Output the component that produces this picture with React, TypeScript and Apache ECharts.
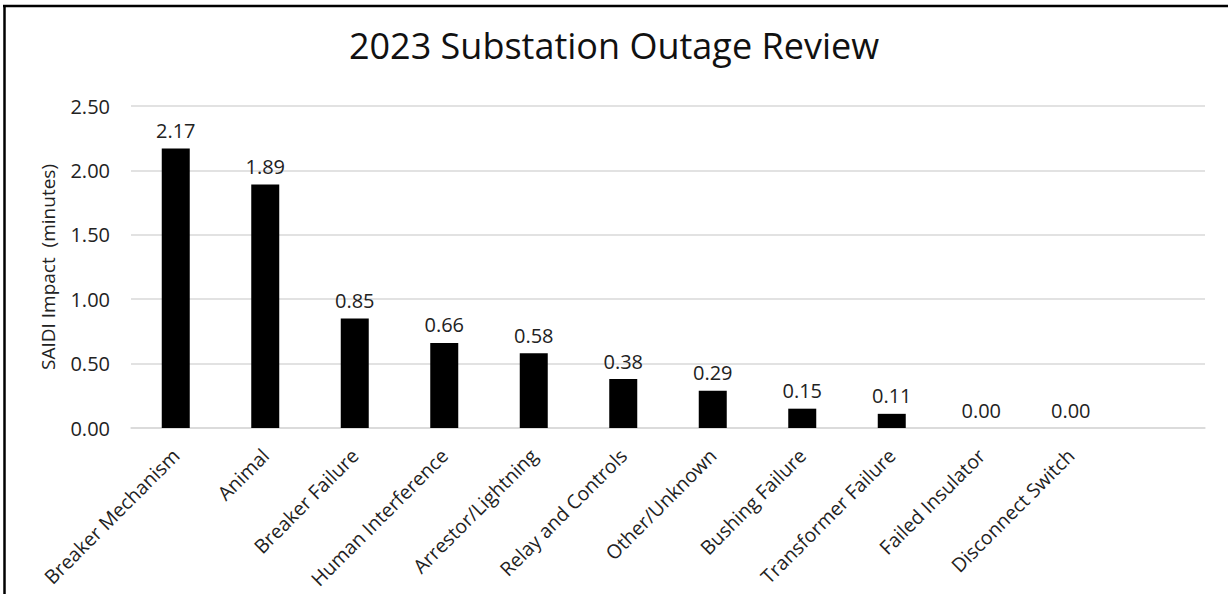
import React, { useEffect, useRef } from "react";
import * as echarts from "echarts";

const categories = [
  "Breaker Mechanism",
  "Animal",
  "Breaker Failure",
  "Human Interference",
  "Arrestor/Lightning",
  "Relay and Controls",
  "Other/Unknown",
  "Bushing Failure",
  "Transformer Failure",
  "Failed Insulator",
  "Disconnect Switch",
  "",
];
const saidiValues: (number | null)[] = [2.17, 1.89, 0.85, 0.66, 0.58, 0.38, 0.29, 0.15, 0.11, 0.0, 0.0, null];
const yTicks = { min: 0, max: 2.5, interval: 0.5 };

const FONT = "Open Sans";

export default function App() {
  const ref = useRef<HTMLDivElement>(null);
  useEffect(() => {
    if (!ref.current) return;
    const chart = echarts.init(ref.current, undefined, { renderer: "svg" });
    chart.setOption({
      animation: false,
      backgroundColor: "#ffffff",
      title: {
        text: "2023 Substation Outage Review",
        left: "center",
        top: 22,
        textStyle: { fontFamily: FONT, fontSize: 36, fontWeight: "normal", color: "#111" },
      },
      graphic: [
        { type: "line", shape: { x1: 4.5, y1: 6, x2: 4.5, y2: 594 }, style: { stroke: "#000", lineWidth: 2.5 } },
        { type: "line", shape: { x1: 3, y1: 6, x2: 1228, y2: 6 }, style: { stroke: "#000", lineWidth: 2.5 } },
      ],
      grid: { left: 131, right: 23, top: 106, bottom: 166, containLabel: false },
      xAxis: {
        type: "category",
        data: categories,
        axisLine: { show: true, lineStyle: { color: "#d9d9d9", width: 1.5 } },
        axisTick: { show: false },
        axisLabel: {
          interval: 0,
          rotate: 45,
          margin: 24,
          fontFamily: FONT,
          fontSize: 19.5,
          color: "#222",
        },
      },
      yAxis: {
        type: "value",
        min: yTicks.min,
        max: yTicks.max,
        interval: yTicks.interval,
        name: "SAIDI Impact  (minutes)",
        nameLocation: "middle",
        nameGap: 74,
        nameTextStyle: { fontFamily: FONT, fontSize: 19, color: "#222" },
        axisLine: { show: false },
        axisTick: { show: false },
        splitLine: { lineStyle: { color: "#d9d9d9", width: 1.5 } },
        axisLabel: {
          margin: 21,
          fontFamily: FONT,
          fontSize: 20,
          color: "#222",
          formatter: (v: number) => v.toFixed(2),
        },
      },
      series: [
        {
          type: "bar",
          data: saidiValues,
          barWidth: 28,
          itemStyle: { color: "#000" },
          label: {
            show: true,
            position: "top",
            distance: 8,
            fontFamily: FONT,
            fontSize: 20,
            color: "#222",
            formatter: (p: any) => (p.value == null ? "" : Number(p.value).toFixed(2)),
          },
        },
      ],
    });
    return () => chart.dispose();
  }, []);
  return <div ref={ref} style={{ position: "fixed", left: 0, top: 0, width: 1228, height: 594 }} />;
}
